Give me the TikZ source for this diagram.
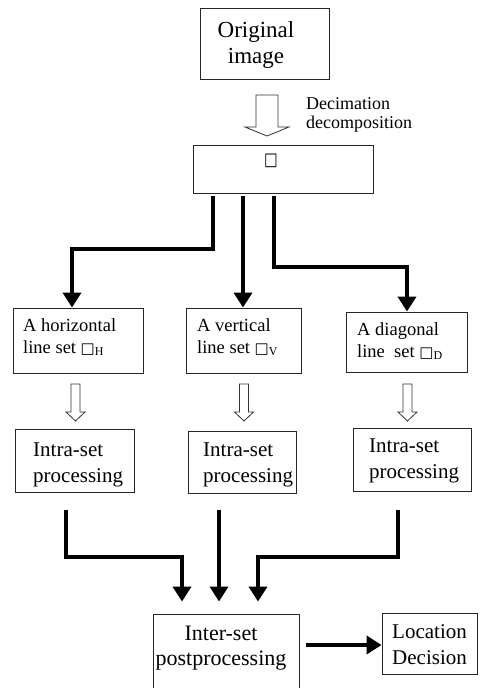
\documentclass[tikz,border=0pt]{standalone}
\usepackage{fontspec}
\usepackage{graphicx}
\setmainfont{Liberation Serif}
\newfontfamily\symf{DejaVu Sans}
\usetikzlibrary{arrows.meta,calc}
\newcommand\fa{\fontsize{21}{26}\selectfont}
\newcommand\fo{\fontsize{23}{26}\selectfont}
\newcommand\fpost{\fontsize{22}{25}\selectfont}
\newcommand\fb{\fontsize{18.5}{21.5}\selectfont}
\newcommand\fc{\fontsize{18}{18.5}\selectfont}
\newcommand\sqb{{\symf\fontsize{15}{15}\selectfont □}}
\newcommand\sbs[1]{\raisebox{-2.5pt}{\fontsize{12}{12}\selectfont #1}}
\newcommand\hollowArr[6]{\draw[hollow] (#1-#5,#2) -- (#1+#5,#2) -- (#1+#5,#3) -- (#1+#6,#3) -- (#1,#4) -- (#1-#6,#3) -- (#1-#5,#3) -- cycle;}
\begin{document}
\begin{tikzpicture}[x=1pt,y=-1pt,
  box/.style={draw=black!85,line width=0.9pt,inner sep=0pt},
  txt/.style={inner sep=0pt,align=left,anchor=base west},
  big/.style={line width=4pt,-{Triangle[length=15pt,width=18pt]}},
  hollow/.style={draw=black!80,line width=0.8pt,line join=miter}]
\useasboundingbox (0,0) rectangle (487,688);
% boxes
\node[box,minimum width=129pt,minimum height=71pt] (orig) at (264.5,43.5) {};
\node[box,minimum width=180pt,minimum height=48pt] (dec) at (283,169) {};
\node[box,minimum width=130pt,minimum height=65pt] (hor) at (78,340.5) {};
\node[box,minimum width=115pt,minimum height=65pt] (ver) at (243.5,340.5) {};
\node[box,minimum width=121pt,minimum height=60pt] (dia) at (406.5,342) {};
\node[box,minimum width=119pt,minimum height=63pt] (inA) at (74.5,460.5) {};
\node[box,minimum width=108pt,minimum height=62pt] (inB) at (242,462) {};
\node[box,minimum width=118pt,minimum height=63pt] (inC) at (412,459.5) {};
\node[box,minimum width=146pt,minimum height=77pt] (inter) at (226,652.5) {};
\node[box,minimum width=95pt,minimum height=61pt] (loc) at (429.5,644) {};
% texts (anchor = baseline of the last line)
\node[txt,align=center,anchor=base,font=\fo] (origT) at (256,63) {Original\\image};
\node[txt,font=\fc] (decT) at (306,128) {Decimation\\decomposition};
\node[inner sep=0pt] (decS) at (271,161) {\scalebox{0.85}[1.05]{\symf\fontsize{17}{17}\selectfont □}};
\node[txt,font=\fb] (horT) at (23,353) {A horizontal\\line set \sqb\sbs{H}};
\node[txt,font=\fb] (verT) at (197,353) {A vertical\\line set \sqb\sbs{V}};
\node[txt,font=\fb] (diaT) at (357,357) {A diagonal\\line\ \ set \sqb\sbs{D}};
\node[txt,font=\fa] (inAT) at (33,482) {Intra-set\\processing};
\node[txt,font=\fa] (inBT) at (203,482) {Intra-set\\processing};
\node[txt,font=\fa] (inCT) at (369,478) {Intra-set\\processing};
\node[txt,align=center,anchor=base,font=\fpost] (interT) at (221,665) {Inter-set\\postprocessing};
\node[txt,font=\fa] (locT) at (392,664) {Location\\Decision};
% hollow arrows
\hollowArr{267}{95}{127}{136}{11}{22}
\hollowArr{75.5}{384}{412}{421}{4.5}{9.5}
\hollowArr{244}{384}{412}{421}{4.5}{9.5}
\hollowArr{407.5}{384}{412}{421}{4.5}{9.5}
% thick connectors
\draw[big,shorten <=3pt] (213,0 |- dec.south) -- (213,249) -- (72,249) -- (72,0 |- hor.north);
\draw[big,shorten <=3pt] (243,0 |- dec.south) -- (243,0 |- ver.north);
\draw[big,shorten <=3pt] (274,0 |- dec.south) -- (274,267) -- (407,267) -- (407,0 |- dia.north);
\draw[big,shorten <=18pt,shorten >=12pt] (66,0 |- inA.south) -- (66,557) -- (182,557) -- (182,0 |- inter.north);
\draw[big,shorten <=17pt,shorten >=12pt] (219,0 |- inB.south) -- (219,0 |- inter.north);
\draw[big,shorten <=19pt,shorten >=12pt] (398,0 |- inC.south) -- (398,557) -- (258,557) -- (258,0 |- inter.north);
\draw[big,shorten <=7pt] (inter.east |- 0,645) -- (loc.west |- 0,645);
\end{tikzpicture}
\end{document}
